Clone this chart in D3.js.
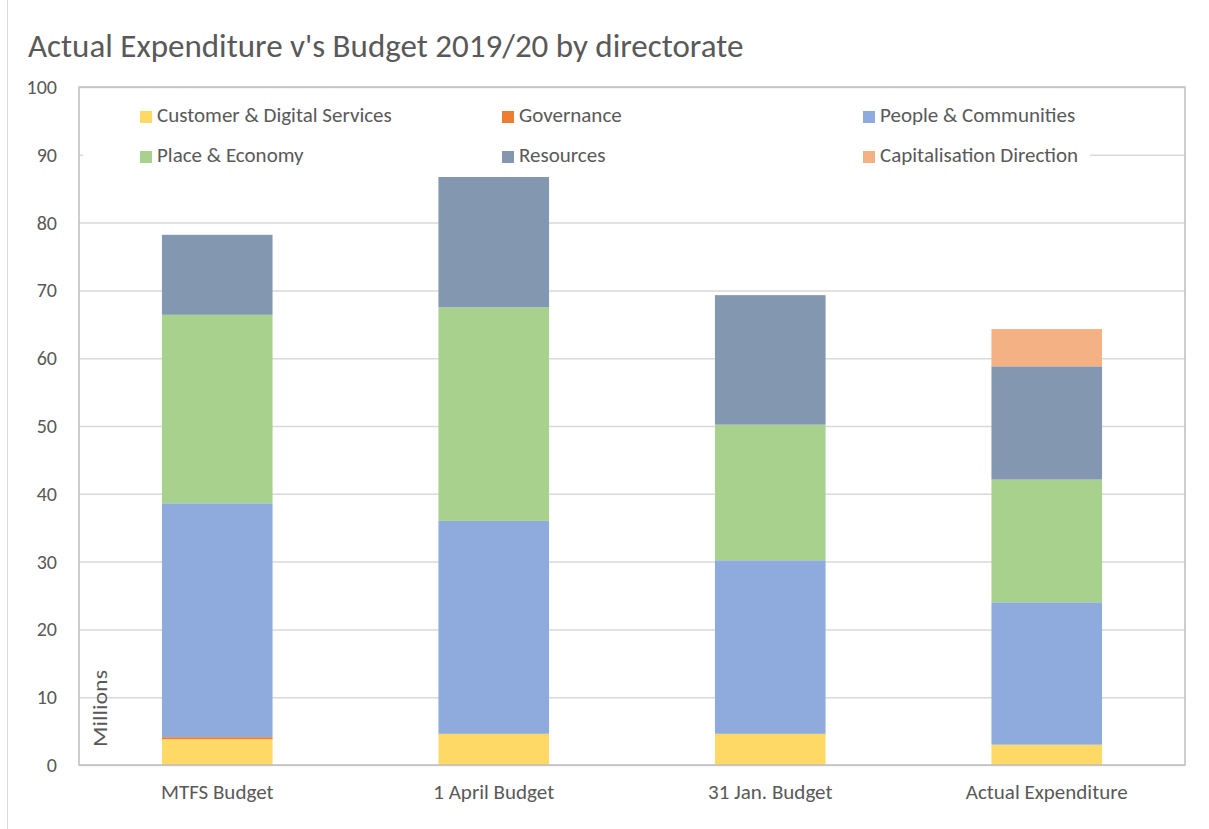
<!DOCTYPE html>
<html>
<head>
<meta charset="utf-8">
<script src="https://cdn.jsdelivr.net/npm/d3@7"></script>
<style>
  body { margin: 0; background: #fff; }
  text { font-family: Carlito, Calibri, "Open Sans", sans-serif; fill: #595959; }
</style>
</head>
<body>
<svg id="chart"></svg>
<script>
var categories = ["MTFS Budget", "1 April Budget", "31 Jan. Budget", "Actual Expenditure"];
var seriesNames = ["Customer & Digital Services", "Governance", "People & Communities",
                   "Place & Economy", "Resources", "Capitalisation Direction"];
var customer = [3.8, 4.6, 4.6, 3.0];
var governance = [0.3, 0, 0, 0];
var people = [34.5, 31.4, 25.6, 21.0];
var place = [27.8, 31.5, 20.0, 18.1];
var resources = [11.8, 19.9, 19.1, 16.7];
var capitalisation = [0, 0, 0, 5.5];
var yTicks = [0, 10, 20, 30, 40, 50, 60, 70, 80, 90, 100];
var colours = ["#ffd966", "#ed7d31", "#8faadc", "#a9d18e", "#8497b0", "#f4b183"];

var W = 1209, H = 829;
var margin = {top: 87, right: 24, bottom: 64, left: 79},
    width = W - margin.left - margin.right,
    height = H - margin.top - margin.bottom;
var fontFam = "Carlito, Calibri, 'Open Sans', sans-serif";

var svg = d3.select("#chart").attr("width", W).attr("height", H);

// outer chart border (only left edge visible)
svg.append("line").attr("x1", 7.5).attr("x2", 7.5).attr("y1", 0).attr("y2", H)
  .attr("stroke", "#d9d9d9");

svg.append("text")
  .attr("x", 28).attr("y", 57)
  .style("font-size", "33px")
  .text("Actual Expenditure v's Budget 2019/20 by directorate");

var g = svg.append("g").attr("transform", "translate(" + margin.left + "," + margin.top + ")");

var table = categories.map(function (c, i) {
  return {cat: c, s0: customer[i], s1: governance[i], s2: people[i],
          s3: place[i], s4: resources[i], s5: capitalisation[i]};
});
var stacked = d3.stack().keys(["s0", "s1", "s2", "s3", "s4", "s5"])(table);

var x = d3.scaleBand().domain(categories).range([0, width]).paddingInner(0.6).paddingOuter(0.3);
var y = d3.scaleLinear().domain([0, 100]).range([height, 0]);

// gridlines
g.append("g")
  .call(d3.axisLeft(y).tickValues(yTicks).tickSize(-width).tickFormat(""))
  .call(function (a) {
    a.select(".domain").remove();
    a.selectAll("line").attr("stroke", "#d9d9d9").attr("stroke-width", 1.5);
  });

// y labels
g.append("g")
  .call(d3.axisLeft(y).tickValues(yTicks).tickSize(0).tickPadding(22))
  .call(function (a) {
    a.select(".domain").remove();
    a.selectAll("text").style("font-size", "20px").attr("fill", "#595959")
      .style("font-family", fontFam);
  });

// bars
g.selectAll(".layer")
  .data(stacked)
  .enter().append("g")
    .attr("class", "layer")
    .attr("fill", function (d, i) { return colours[i]; })
  .selectAll("rect")
  .data(function (d) { return d; })
  .enter().append("rect")
    .attr("x", function (d) { return x(d.data.cat); })
    .attr("width", x.bandwidth())
    .attr("y", function (d) { return y(d[1]); })
    .attr("height", function (d) { return y(d[0]) - y(d[1]); });

// plot border
g.append("rect").attr("width", width).attr("height", height)
  .attr("fill", "none").attr("stroke", "#bfbfbf").attr("stroke-width", 1.5);

// x labels
g.append("g")
  .attr("transform", "translate(0," + height + ")")
  .call(d3.axisBottom(x).tickSize(0).tickPadding(19))
  .call(function (a) {
    a.select(".domain").remove();
    a.selectAll("text").style("font-size", "21px").attr("fill", "#595959")
      .style("font-family", fontFam);
  });

// axis title
g.append("text")
  .attr("transform", "translate(28," + (height - 18) + ") rotate(-90)")
  .style("font-size", "20px")
  .attr("textLength", 77).attr("lengthAdjust", "spacingAndGlyphs")
  .text("Millions");

// legend
var legendCols = [61, 423, 784];
var legend = g.append("g");
legend.append("rect").attr("x", 4).attr("y", 10).attr("width", 1007).attr("height", 80).attr("fill", "#fff");
var items = legend.selectAll(".item").data(seriesNames).enter().append("g")
  .attr("class", "item")
  .attr("transform", function (d, i) {
    return "translate(" + legendCols[i % 3] + "," + (24 + Math.floor(i / 3) * 40) + ")";
  });
items.append("rect").attr("x", 0).attr("y", 0).attr("width", 12).attr("height", 12)
  .attr("fill", function (d, i) { return colours[i]; });
items.append("text").attr("x", 17).attr("y", 11).style("font-size", "21px")
  .text(function (d) { return d; });
</script>
</body>
</html>
